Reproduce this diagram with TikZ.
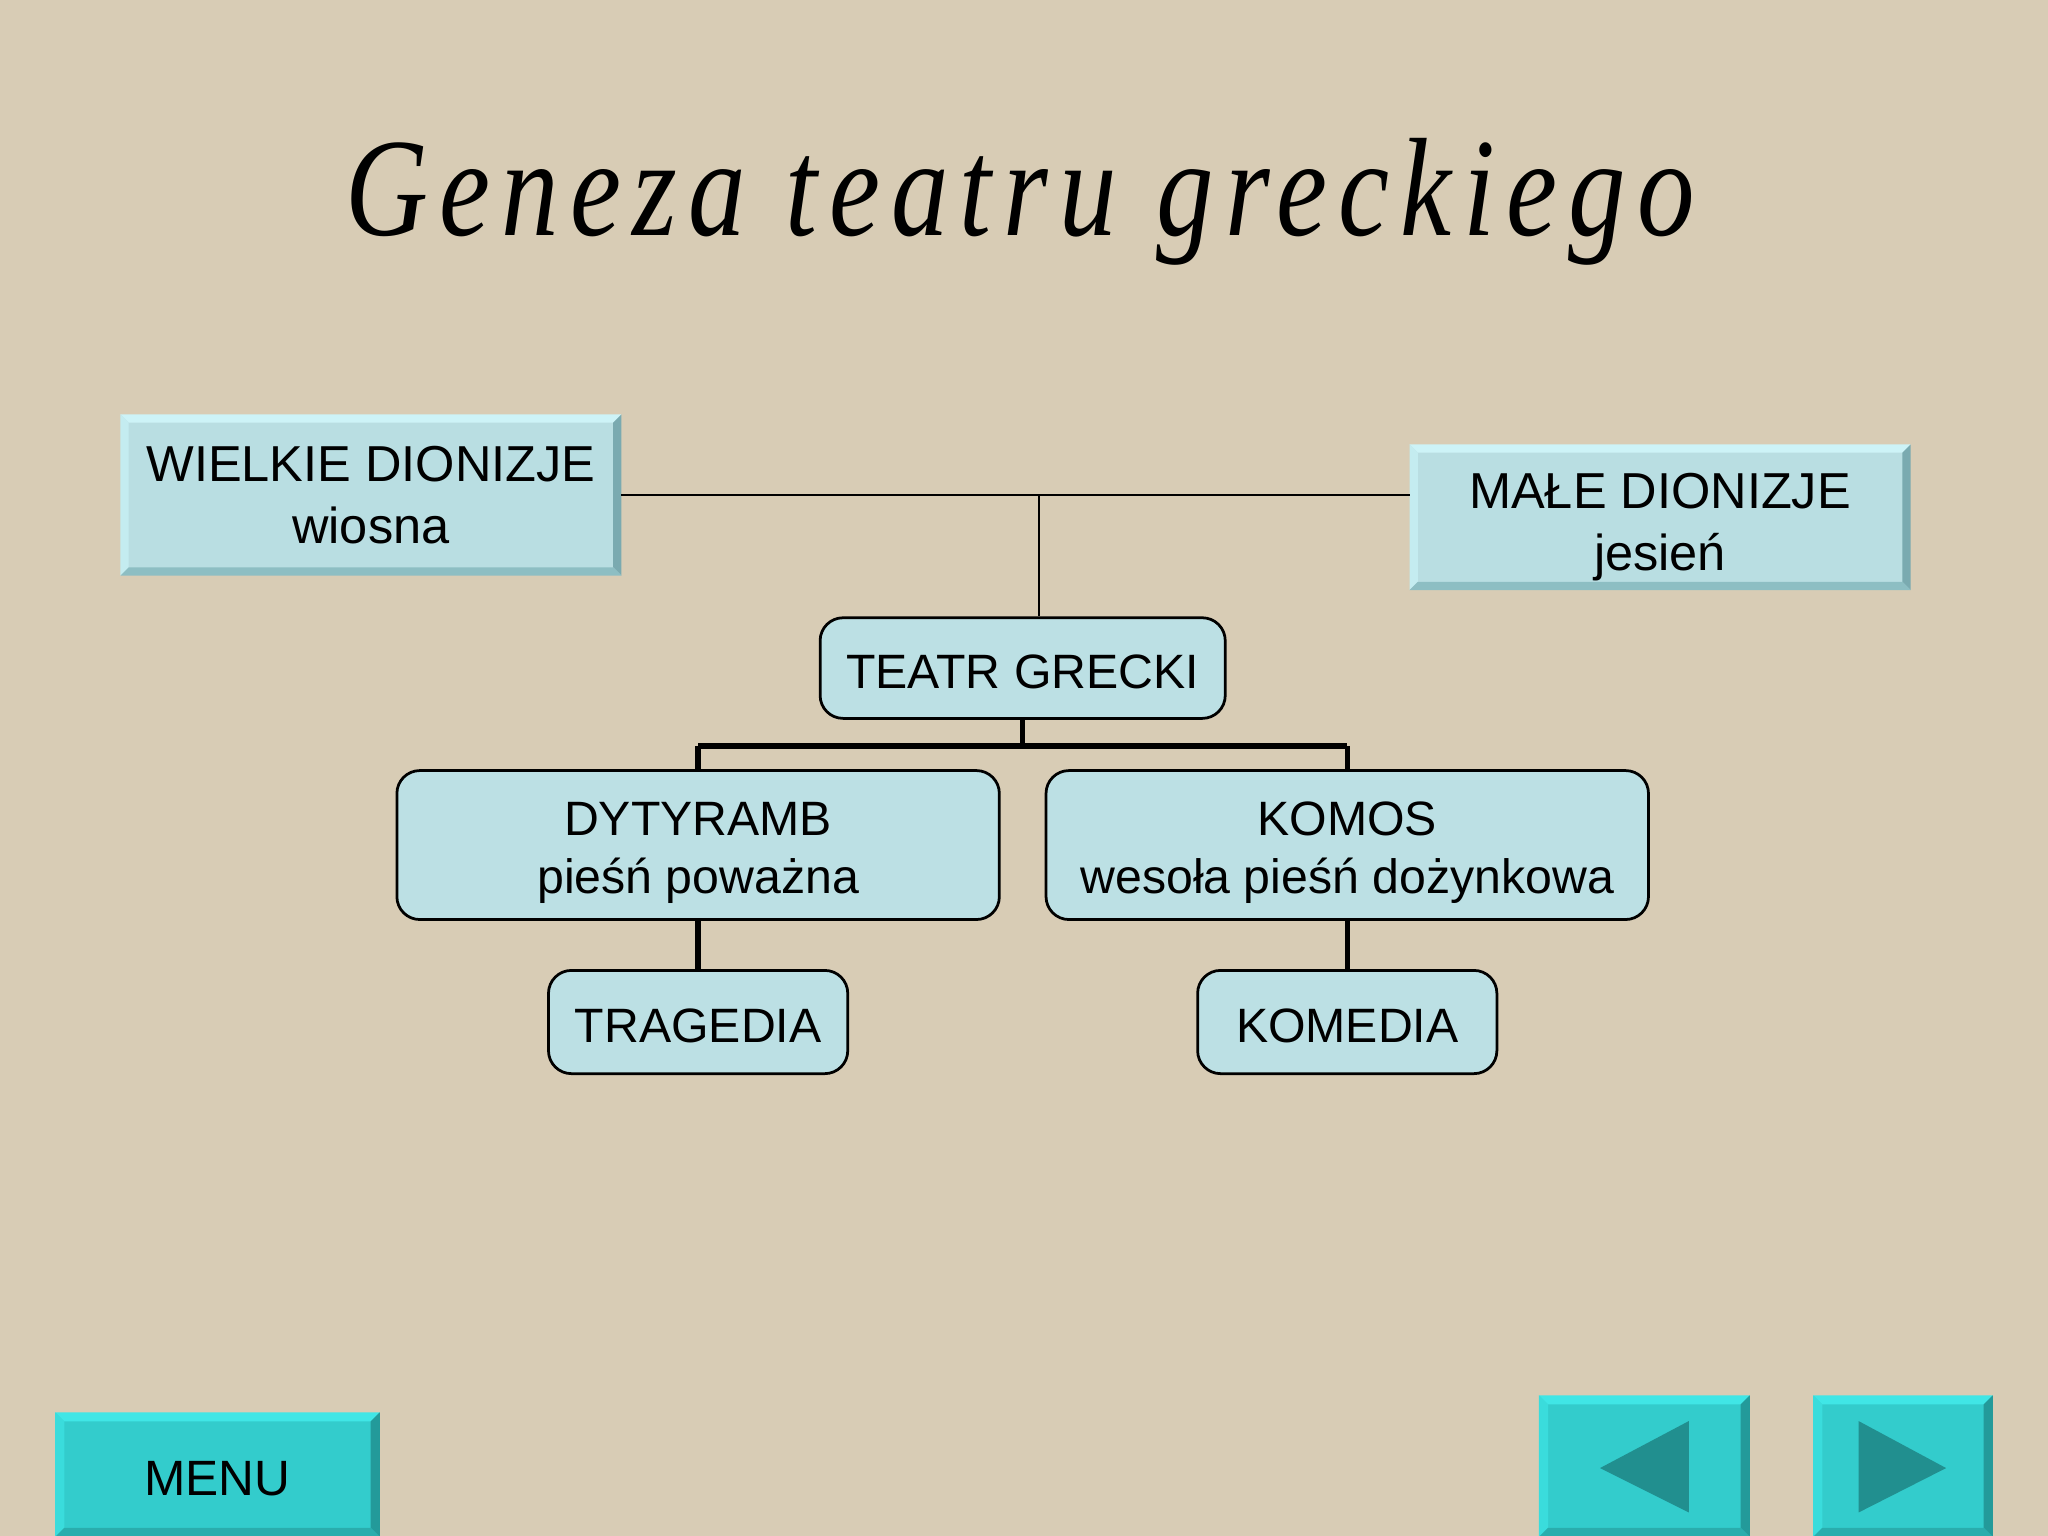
\documentclass[tikz,border=0pt]{standalone}
\usepackage{fontspec}
\setmainfont{Liberation Sans}
\newfontfamily\titlefont[FakeStretch=0.82,LetterSpace=8]{Liberation Serif}
\usetikzlibrary{positioning, calc}
\usepackage{xcolor}

\definecolor{linen}{HTML}{D8CCB5}
\definecolor{boxblue}{HTML}{B9DEE2}
\definecolor{boxtop}{HTML}{CDF3F7}
\definecolor{boxleft}{HTML}{C4ECF0}
\definecolor{boxright}{HTML}{7AAAB0}
\definecolor{boxbottom}{HTML}{8DBEC3}
\definecolor{orgblue}{HTML}{BCE0E4}
\definecolor{teal}{HTML}{33CCCC}
\definecolor{tealtop}{HTML}{40E6E6}
\definecolor{tealleft}{HTML}{3ADCDC}
\definecolor{tealright}{HTML}{239A9A}
\definecolor{tealbottom}{HTML}{2AADAD}
\definecolor{arrowteal}{HTML}{218F8F}

% bevelled edge: node, depth, top, left, right, bottom
\newcommand{\bevel}[6]{%
  \fill[#3] (#1.north west) -- (#1.north east) -- ([shift={(-#2,-#2)}]#1.north east) -- ([shift={(#2,-#2)}]#1.north west) -- cycle;
  \fill[#4] (#1.north west) -- ([shift={(#2,-#2)}]#1.north west) -- ([shift={(#2,#2)}]#1.south west) -- (#1.south west) -- cycle;
  \fill[#5] (#1.north east) -- (#1.south east) -- ([shift={(-#2,#2)}]#1.south east) -- ([shift={(-#2,-#2)}]#1.north east) -- cycle;
  \fill[#6] (#1.south west) -- (#1.south east) -- ([shift={(-#2,#2)}]#1.south east) -- ([shift={(#2,#2)}]#1.south west) -- cycle;
}
\newcommand{\toprule}[1][12pt]{\rule{0pt}{#1}}

\tikzset{festival/.style={rectangle, fill=boxblue, align=center, inner sep=0pt,
    minimum width=3.82cm, font=\fontsize{11}{13.6}\selectfont}}
\tikzset{orgbox/.style={rectangle, rounded corners=5pt, draw=black, line width=0.6pt,
    fill=orgblue, align=center, inner sep=0pt, font=\fontsize{10.5}{12.6}\selectfont}}
\tikzset{navbutton/.style={rectangle, fill=teal, inner sep=0pt, minimum height=1.07cm}}
\tikzset{thinlink/.style={line width=0.45pt}}
\tikzset{thicklink/.style={line width=1.2pt}}

\begin{document}
\begin{tikzpicture}[x=0.01cm, y=-0.01cm]
  \fill[linen] (0,0) rectangle (1568,1176);
  \useasboundingbox (0,0) rectangle (1568,1176);

  \node[anchor=base] (title) at (781,180) {\titlefont\itshape\fontsize{30.5}{36}\selectfont Geneza teatru greckiego};

  \node[festival, minimum height=1.22cm] (wielkie) at (284,379) {WIELKIE DIONIZJE\\wiosna};
  \bevel{wielkie}{1.8pt}{boxtop}{boxleft}{boxright}{boxbottom}
  \node[festival, minimum height=1.10cm] (male) at (1271,396) {\toprule MAŁE DIONIZJE\\jesień};
  \bevel{male}{1.8pt}{boxtop}{boxleft}{boxright}{boxbottom}

  \node[orgbox, minimum width=3.10cm, minimum height=0.77cm] (teatr) at (783,511.5) {\toprule[9.2pt]TEATR GRECKI};
  \node[orgbox, minimum width=4.61cm, minimum height=1.14cm] (dytyramb) at (534.5,647) {\toprule[10.8pt]DYTYRAMB\\pieśń poważna};
  \node[orgbox, minimum width=4.61cm, minimum height=1.14cm] (komos) at (1031.5,647) {\toprule[10.8pt]KOMOS\\wesoła pieśń dożynkowa};
  \node[orgbox, minimum width=2.29cm, minimum height=0.79cm] (tragedia) at (534.5,782.5) {\toprule[9.2pt]TRAGEDIA};
  \node[orgbox, minimum width=2.29cm, minimum height=0.79cm] (komedia) at (1031.5,782.5) {\toprule[9.2pt]KOMEDIA};

  % festivals feed the theatre
  \coordinate (join) at ($(wielkie.east)!0.53!(wielkie.east -| male.west)$);
  \draw[thinlink] (wielkie.east) -- (wielkie.east -| male.west);
  \draw[thinlink] (join) -- (join |- teatr.north);

  % theatre splits into the two songs
  \coordinate (split) at ($(teatr.south)+(0,20)$);
  \draw[thicklink] (teatr.south) -- (split);
  \draw[thicklink] (split -| dytyramb.north) -- (split -| komos.north);
  \draw[thicklink] (split -| dytyramb.north) -- (dytyramb.north);
  \draw[thicklink] (split -| komos.north) -- (komos.north);
  \draw[thicklink] (dytyramb.south) -- (tragedia.north);
  \draw[thicklink] (komos.south) -- (komedia.north);

  % navigation
  \node[navbutton, minimum width=2.47cm, minimum height=0.94cm, font=\fontsize{10.8}{13}\selectfont] (menu) at (166.5,1129) {\toprule[9.4pt]MENU};
  \bevel{menu}{2pt}{tealtop}{tealleft}{tealright}{tealbottom}
  \node[navbutton, minimum width=1.60cm] (back) at (1259,1122.5) {};
  \bevel{back}{2pt}{tealtop}{tealleft}{tealright}{tealbottom}
  \node[navbutton, minimum width=1.36cm] (next) at (1457,1122.5) {};
  \bevel{next}{2pt}{tealtop}{tealleft}{tealright}{tealbottom}
  \fill[arrowteal] ($(back)+(-34,1.5)$) -- ($(back)+(34,-34.5)$) -- ($(back)+(34,35.5)$) -- cycle;
  \fill[arrowteal] ($(next)+(33,1.5)$) -- ($(next)+(-34,-34.5)$) -- ($(next)+(-34,35.5)$) -- cycle;
\end{tikzpicture}
\end{document}
